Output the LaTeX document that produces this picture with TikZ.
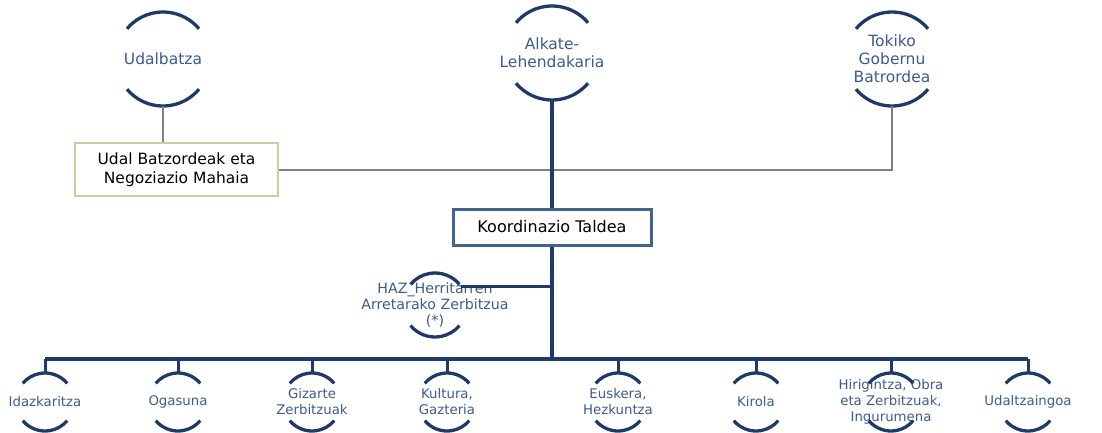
\documentclass[tikz,border=0pt]{standalone}
\usepackage{fontspec}
\setmainfont{DejaVu Sans}
\definecolor{navy}{HTML}{1F3A66}
\definecolor{unittext}{HTML}{3B5B8E}
\definecolor{kboxline}{HTML}{41648F}
\definecolor{tanline}{HTML}{D3C9A0}
\definecolor{greyline}{HTML}{808080}

\tikzset{
  unit/.style={circle,inner sep=0pt,outer sep=0pt,minimum size=94pt},
  hazunit/.style={circle,inner sep=0pt,outer sep=0pt,minimum size=64pt},
  subunit/.style={circle,inner sep=0pt,outer sep=0pt,minimum size=58pt},
  utext/.style={text=unittext,align=center,font=\fontsize{15.5}{18}\selectfont},
  htext/.style={text=unittext,align=center,font=\fontsize{14.2}{16}\selectfont},
  stext/.style={text=unittext,align=center,font=\fontsize{13.3}{16}\selectfont},
  arcline/.style={draw=navy,line width=3.3pt},
  mainline/.style={draw=navy,line width=4pt},
  tickline/.style={draw=navy,line width=3pt},
  greyconn/.style={draw=greyline,line width=2pt},
}

\begin{document}
\begin{tikzpicture}[x=1pt,y=1pt]
   \useasboundingbox (0,0) rectangle (1102,432);

   % top level
   \node[unit,label={[utext]center:Udalbatza}] (udb) at (163,373) {};
   \node[unit,label={[utext]center:{Alkate-\\Lehendakaria}}] (alk) at (552,379) {};
   \node[unit,label={[utext]center:{Tokiko\\Gobernu\\Batrordea}}] (tok) at (892,373) {};

   \node[draw=tanline,line width=2pt,minimum width=203pt,minimum height=53pt,align=center,
         font=\fontsize{15.5}{19}\selectfont] (ub) at (176.5,262.5) {Udal Batzordeak eta\\Negoziazio Mahaia};
   \node[draw=kboxline,line width=3pt,minimum width=198pt,minimum height=36pt,
         font=\fontsize{16}{18}\selectfont] (kt) at (552,205) {Koordinazio Taldea};

   \node[hazunit,label={[htext]center:{HAZ\_Herritarren\\Arretarako Zerbitzua\\(*)}}] (haz) at (435,127) {};

   % departments
   \foreach \n/\x/\txt in {c1/45/Idazkaritza, c2/178/Ogasuna, c3/312/{Gizarte\\Zerbitzuak},
       c4/447/{Kultura,\\Gazteria}, c5/618/{Euskera,\\Hezkuntza}, c6/756/Kirola,
       c7/891/{Hirigintza, Obra\\eta Zerbitzuak,\\Ingurumena}, c8/1028/Udaltzaingoa}
     \node[subunit,label={[stext]center:{\txt}}] (\n) at (\x,30) {};

   \coordinate (bus) at (552,73);

   % arcs
   \foreach \n/\r in {udb/47pt,alk/47pt,tok/47pt,haz/32pt,c1/29pt,c2/29pt,c3/29pt,c4/29pt,
       c5/29pt,c6/29pt,c7/29pt,c8/29pt} {
     \draw[arcline] (\n.40) arc[start angle=40,end angle=140,radius=\r];
     \draw[arcline] (\n.220) arc[start angle=220,end angle=320,radius=\r];
   }

   % connectors
   \draw[greyconn] (udb.south) -- (udb.south |- ub.north);
   \draw[greyconn] (tok.south) |- (ub.east);

   \draw[mainline] (alk.south) -- (kt.north);
   \draw[mainline] (kt.south) -- (bus);
   \draw[mainline] (c1.north |- bus) -- (c8.north |- bus);
   \foreach \n in {c1,c2,c3,c4,c5,c6,c7,c8}
     \draw[tickline] (\n.north) -- (\n.north |- bus);
   \draw[tickline] (haz.35) -- (haz.35 -| kt.south);
\end{tikzpicture}
\end{document}
